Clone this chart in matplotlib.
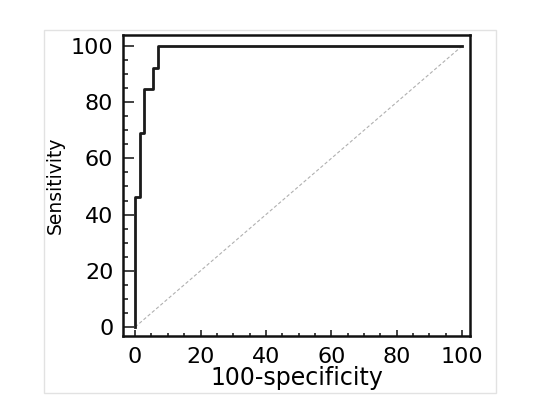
import matplotlib.pyplot as plt
from matplotlib.patches import Rectangle
from matplotlib.ticker import MultipleLocator

# ROC curve
one_minus_spec = [0, 0, 1.5, 2.8, 5.5, 7, 100]
sensitivity = [0, 46.2, 69.2, 84.6, 92.3, 100, 100]
diag = [0, 100]

fig = plt.figure(figsize=(5.48, 4.08), dpi=100)
ax = fig.add_axes([123 / 548, 1 - 336 / 408, (470 - 123) / 548, (336 - 35) / 408])

# light grey frame around the whole picture
fig.patches.append(Rectangle((44 / 548, 1 - 393 / 408), (496 - 44) / 548, (393 - 30) / 408,
                             transform=fig.transFigure, fill=False, edgecolor='#e2e2e2', lw=1))

ax.plot(diag, diag, color='#b0b0b0', lw=0.8, dashes=(3, 2))
ax.step(one_minus_spec, sensitivity, where='post', color='#1a1a1a', lw=2)

ax.set_xlim(-3.7, 102.4)
ax.set_ylim(-3.2, 103.9)
ax.set_xticks([0, 20, 40, 60, 80, 100])
ax.set_yticks([0, 20, 40, 60, 80, 100])
ax.xaxis.set_minor_locator(MultipleLocator(5))
ax.yaxis.set_minor_locator(MultipleLocator(5))

ax.tick_params(axis='both', which='both', direction='in', color='#222222', width=1.2)
ax.tick_params(axis='x', which='major', length=4.5, pad=8, labelsize=16)
ax.tick_params(axis='x', which='minor', length=2)
ax.tick_params(axis='y', which='major', length=8, pad=7, labelsize=16)
ax.tick_params(axis='y', which='minor', length=3.5)

for s in ax.spines.values():
    s.set_linewidth(1.8)
    s.set_color('#111111')

ax.set_xlabel("100-specificity", fontsize=17, labelpad=-1)
ax.set_ylabel("Sensitivity", fontsize=13.5, labelpad=4)

fig.savefig("out.png", dpi=100, facecolor='white')
